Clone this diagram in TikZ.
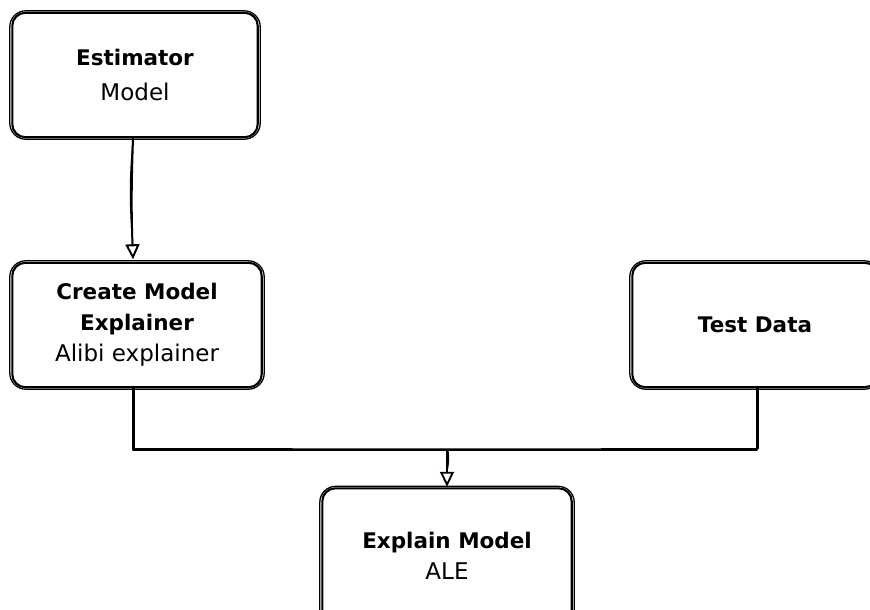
\documentclass[tikz,border=0pt]{standalone}
\usepackage{fontspec}
\setmainfont{DejaVu Sans}
\usetikzlibrary{arrows.meta,calc}

% hand-drawn double outline around a named node
\newcommand\sketchframe[1]{%
  \draw[ink, rounded corners=13pt]
    ($(#1.north west)+(0.5,0.5)$) rectangle ($(#1.south east)+(-0.5,-0.5)$);
  \draw[ink, line width=1.3pt, rounded corners=16pt]
    ($(#1.north west)+(-2,-1.5)$) rectangle ($(#1.south east)+(2,1.5)$);
}
% plain (non-bold) line inside a card
\newcommand\plainline[1]{{\fontsize{23}{31}\selectfont #1}}

\begin{document}
\begin{tikzpicture}[x=1pt,y=-1pt,
  card/.style={minimum width=246pt, minimum height=125pt, inner sep=0pt,
    align=center, font=\fontsize{21.5}{31}\selectfont},
  ink/.style={line width=2.1pt, line cap=round, line join=round},
  wire/.style={line width=2pt, line cap=round, line join=round},
  thinwire/.style={line width=1pt, line cap=round, line join=round},
  tip/.style={-{Triangle[open, length=15pt, width=14pt, line width=1.9pt]}}]
\useasboundingbox (0,0) rectangle (870,610);
\clip (0,0) rectangle (870,610);

% boxes
\node[card, font=\fontsize{21.5}{35}\selectfont] (est) at (135,75)
  {{\bfseries Estimator}\\\plainline{Model}};
\node[card, minimum width=250pt] (cre) at (137,325)
  {{\bfseries Create Model}\\{\bfseries Explainer}\\\plainline{Alibi explainer}};
\node[card] (test) at (755,325) {\bfseries Test Data};
\node[card, minimum width=250pt, minimum height=136pt] (exp) at (447,556)
  {{\bfseries Explain Model}\\\plainline{ALE}};

\sketchframe{est}
\sketchframe{cre}
\sketchframe{test}
\sketchframe{exp}

% connectors
\coordinate (join) at (447,450);
\draw[wire, tip] ($(est.south)+(-2,1)$) to[bend right=2] ($(cre.north)+(-4,-3)$);
\draw[thinwire] ($(est.south)+(-2,1)$) to[bend right=5] ($(cre.north)+(-4,-16)$);
\draw[wire] ($(cre.south)+(-4,-1)$) |- (join) -| ($(test.south)+(2,-1)$);
\draw[thinwire] ($(cre.south)+(-3,-1)$) |- ($(join)+(0,-2)$) -| ($(test.south)+(3,-1)$);
\draw[wire, tip] (join) -- ($(exp.north)+(0,-1)$);
\draw[thinwire] ($(join)+(1,0)$) to[bend left=10] ($(exp.north)+(0,-16)$);
\end{tikzpicture}
\end{document}
